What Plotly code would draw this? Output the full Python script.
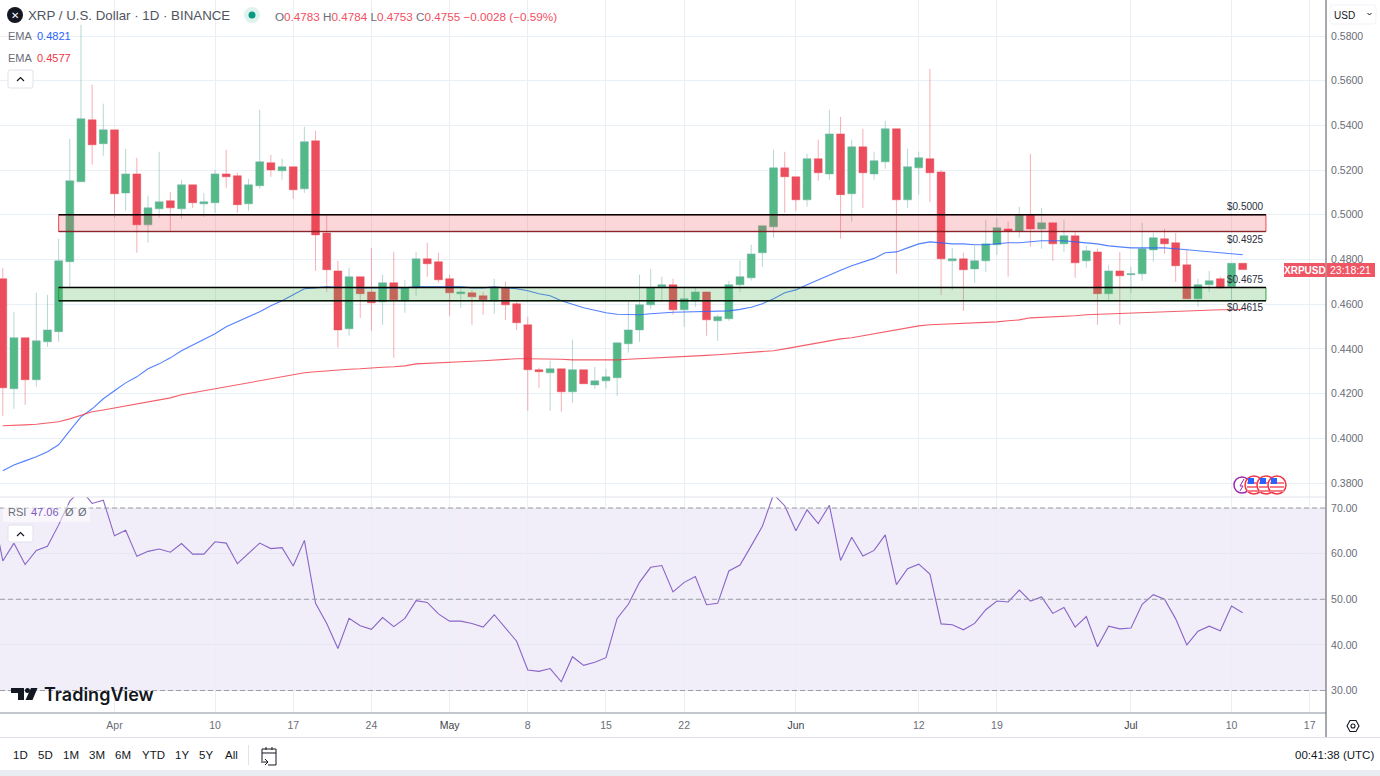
import plotly.graph_objects as go
import pandas as pd

W, H = 1380, 776
FONT = "Liberation Sans"

start_date = "2023-03-22"
opens = [.4714,.4222,.4450,.4262,.4432,.4477,.4790,.5148,.5425,.5318,
 .5380,.5098,.5183,.4955,.5027,.5063,.5027,.5134,.5049,.5054,.5183,.5175,.5049,.5130,.5233,.5197,.5215,.5116,.5331,.4919,.4749,.4490,.4723,.4655,.4611,.4696,.4615,.4673,.4803,.4790,
 .4714,.4647,.4651,.4638,.4615,.4673,.4602,.4508,.4307,.4293,.4311,.4208,.4307,.4239,.4257,.4271,.4423,.4485,.4597,.4678,.4687,.4575,.4615,.4655,.4526,.4535,.4687,.4718,.4830,.4946,.5210,
 .5170,.5067,.5251,.5183,.5362,.5094,.5304,.5183,.5237,.5385,.5067,.5210,.5251,.5192,.4794,.4803,.4758,.4794,.4866,.4937,.4928,.5000,.4937,.4964,.4870,.4906,.4794,.4834,.4647,.4749,
 .4732,.4736,.4843,.4893,.4875,.4776,.4624,.4687,.4714,.4678,.4783]
highs = [.4763,.4566,.4450,.4651,.4642,.4893,.5340,.5850,.5582,.5497,
 .5380,.5295,.5255,.5085,.5282,.5103,.5157,.5134,.5098,.5201,.5291,.5188,.5161,.5470,.5268,.5251,.5215,.5394,.5376,.5000,.4794,.4763,.4723,.4852,.4732,.4834,.4709,.4834,.4875,.4830,
 .4732,.4669,.4664,.4655,.4714,.4700,.4611,.4544,.4316,.4347,.4311,.4441,.4307,.4320,.4311,.4427,.4611,.4732,.4758,.4723,.4714,.4678,.4673,.4655,.4553,.4705,.4794,.4866,.4951,.5291,.5282,
 .5170,.5273,.5336,.5470,.5438,.5336,.5385,.5282,.5421,.5385,.5295,.5282,.5653,.5201,.4852,.4830,.4861,.4978,.4987,.4969,.5036,.5273,.5031,.4964,.4978,.4924,.4861,.4848,.4776,.4834,
 .4767,.4964,.4919,.4937,.4919,.4843,.4714,.4749,.4723,.4785,.4784]
lows = [.4101,.4132,.4150,.4230,.4409,.4432,.4673,.5148,.5224,.5264,
 .4987,.5018,.4830,.4875,.4987,.4924,.4982,.5031,.4991,.5009,.5121,.5009,.5018,.5116,.5170,.5157,.5072,.5098,.4749,.4655,.4405,.4459,.4539,.4481,.4508,.4360,.4562,.4638,.4723,.4696,
 .4548,.4584,.4508,.4553,.4557,.4530,.4485,.4123,.4226,.4123,.4119,.4159,.4244,.4222,.4222,.4190,.4383,.4432,.4579,.4620,.4553,.4499,.4588,.4459,.4436,.4526,.4655,.4705,.4767,.4897,.5009,
 .5018,.5036,.5152,.5157,.4893,.4969,.5031,.5157,.5206,.4736,.5031,.5090,.5058,.4642,.4664,.4570,.4696,.4745,.4821,.4723,.4897,.4857,.4848,.4794,.4834,.4718,.4763,.4508,.4620,.4508,
 .4651,.4705,.4790,.4825,.4700,.4624,.4588,.4655,.4669,.4620,.4753]
closes = [.4226,.4450,.4262,.4436,.4485,.4794,.5152,.5430,.5313,.5380,
 .5094,.5183,.4955,.5031,.5058,.5031,.5134,.5054,.5058,.5183,.5170,.5045,.5134,.5237,.5201,.5215,.5112,.5327,.4910,.4754,.4485,.4723,.4647,.4606,.4696,.4620,.4673,.4803,.4781,.4709,
 .4651,.4655,.4633,.4620,.4673,.4597,.4517,.4307,.4298,.4311,.4208,.4307,.4244,.4257,.4275,.4427,.4485,.4597,.4673,.4687,.4575,.4624,.4655,.4530,.4544,.4687,.4723,.4825,.4951,.5210,.5170,
 .5067,.5251,.5188,.5362,.5090,.5304,.5188,.5242,.5385,.5067,.5215,.5255,.5188,.4803,.4803,.4754,.4794,.4870,.4942,.4928,.5000,.4937,.4964,.4870,.4906,.4785,.4839,.4647,.4749,.4727,
 .4736,.4848,.4897,.4870,.4772,.4624,.4687,.4705,.4673,.4783,.4755]
ema_blue = [.3855,.3881,.3899,.3917,.3940,.3971,.4034,.4096,.4132,.4177,
 .4213,.4248,.4275,.4311,.4333,.4360,.4392,.4418,.4445,.4468,.4499,.4521,.4544,.4566,.4593,.4615,.4642,.4669,.4673,.4678,.4676,.4673,.4673,.4673,.4673,.4673,.4673,.4678,.4678,.4678,
 .4680,.4678,.4673,.4673,.4678,.4673,.4669,.4660,.4647,.4638,.4615,.4600,.4584,.4573,.4562,.4555,.4553,.4553,.4557,.4562,.4564,.4565,.4566,.4566,.4566,.4570,.4577,.4586,.4602,.4624,.4651,
 .4664,.4687,.4709,.4732,.4752,.4772,.4790,.4805,.4830,.4834,.4852,.4870,.4879,.4875,.4870,.4870,.4866,.4866,.4870,.4875,.4875,.4879,.4884,.4884,.4884,.4879,.4875,.4870,.4861,.4857,
 .4852,.4852,.4852,.4852,.4848,.4843,.4839,.4834,.4830,.4825,.4821]
ema_red = [.4056,.4057,.4060,.4063,.4067,.4074,.4087,.4103,.4119,.4127,
 .4136,.4145,.4154,.4163,.4172,.4181,.4195,.4204,.4213,.4222,.4230,.4239,.4248,.4257,.4266,.4275,.4284,.4293,.4298,.4302,.4307,.4309,.4311,.4316,.4318,.4320,.4324,.4333,.4336,.4338,
 .4340,.4342,.4345,.4347,.4351,.4354,.4356,.4356,.4356,.4356,.4354,.4351,.4351,.4351,.4349,.4351,.4354,.4356,.4360,.4362,.4365,.4367,.4369,.4371,.4374,.4378,.4380,.4383,.4387,.4392,.4400,
 .4409,.4418,.4427,.4436,.4445,.4450,.4459,.4468,.4477,.4485,.4494,.4503,.4508,.4510,.4512,.4515,.4517,.4519,.4521,.4526,.4530,.4539,.4541,.4544,.4546,.4548,.4553,.4555,.4557,.4559,
 .4562,.4564,.4566,.4566,.4568,.4570,.4573,.4575,.4575,.4575,.4577]
rsi_start_date = "2023-03-21"
rsi = [71,58.4,62.3,57.6,60.7,61.6,66.3,71.5,74,71,71.7,
 63.9,65.1,59.4,60.5,61,60.3,62.2,59.9,59.9,62.6,62.3,57.8,60,62.3,61.1,61.3,57.3,62.9,49.1,44.7,39.2,45.8,44.2,43.4,46,44,45.8,49.7,49.3,46.8,
 45.2,45.2,44.7,43.9,46.6,43.7,40.8,34.5,34.2,34.8,31.9,37.4,35.5,36.2,37.2,45.8,48.9,53.7,57,57.4,51.6,53.7,55,48.8,49.1,56.2,57.5,61.7,66,73,70.5,
 65,69.6,66.6,70.6,58.5,63.6,59.5,60.7,64.1,53.2,56.7,57.7,55.5,44.6,44.4,43.3,44.7,47.7,49.6,49.4,52,49.6,50.5,46.9,48.2,43.9,46.2,39.6,44.1,43.5,
 43.7,48.9,51,50,45.7,40,43,44.1,43.1,48.5,47.06]

price_ticks = [.58,.56,.54,.52,.50,.48,.46,.44,.42,.40,.38]
rsi_ticks = [70,60,50,40,30]
rsi_dashed = [70,50,30]
time_tick_dates = ["2023-04-01","2023-04-10","2023-04-17","2023-04-24","2023-05-01","2023-05-08","2023-05-15","2023-05-22",
                   "2023-06-01","2023-06-12","2023-06-19","2023-07-01","2023-07-10","2023-07-17"]
time_tick_labels = ["Apr","10","17","24","May","8","15","22","Jun","12","19","Jul","10","17"]
month_labels = {"May","Jun","Jul"}
red_zone = [0.4925, 0.5000]
green_zone = [0.4615, 0.4675]
zone_dates = ["2023-03-27", "2023-07-13 02:00"]
zone_labels = ["$0.5000","$0.4925","$0.4675","$0.4615"]
range_buttons = ["1D","5D","1M","3M","6M","YTD","1Y","5Y","All"]

dates = pd.date_range(start_date, periods=len(opens), freq="D")
rsi_dates = pd.date_range(rsi_start_date, periods=len(rsi), freq="D")
x_range = ["2023-03-21 18:00", "2023-07-18 11:00"]

GREEN, RED = "#53b987", "#eb4d5c"
BLUE, LRED, PURPLE = "#2962ff", "#f23645", "#7e57c2"
GRID = "#e9f0f5"
TXT = "#6a6d78"
DARK = "#131722"

def X(p): return p / W
def Y(p): return 1 - p / H

shapes, annos = [], []

def paper(kind, x0, y0, x1, y1, fill="rgba(0,0,0,0)", line=None, lw=1, layer="above", dash=None):
    shapes.append(dict(type=kind, xref="paper", yref="paper", x0=X(x0), x1=X(x1), y0=Y(y0), y1=Y(y1),
                       fillcolor=fill, line=dict(color=line or "rgba(0,0,0,0)", width=lw if line else 0, dash=dash),
                       layer=layer))

def path(points, fill="rgba(0,0,0,0)", line=None, lw=1, layer="above", close=False):
    d = "M" + " L".join(f"{X(a):.5f},{Y(b):.5f}" for a, b in points) + (" Z" if close else "")
    shapes.append(dict(type="path", xref="paper", yref="paper", path=d, fillcolor=fill,
                       line=dict(color=line or "rgba(0,0,0,0)", width=lw if line else 0), layer=layer))

def rrect(x0, y0, x1, y1, r, fill, line):
    d = (f"M{X(x0+r):.5f},{Y(y0):.5f} L{X(x1-r):.5f},{Y(y0):.5f} Q{X(x1):.5f},{Y(y0):.5f} {X(x1):.5f},{Y(y0+r):.5f} "
         f"L{X(x1):.5f},{Y(y1-r):.5f} Q{X(x1):.5f},{Y(y1):.5f} {X(x1-r):.5f},{Y(y1):.5f} "
         f"L{X(x0+r):.5f},{Y(y1):.5f} Q{X(x0):.5f},{Y(y1):.5f} {X(x0):.5f},{Y(y1-r):.5f} "
         f"L{X(x0):.5f},{Y(y0+r):.5f} Q{X(x0):.5f},{Y(y0):.5f} {X(x0+r):.5f},{Y(y0):.5f} Z")
    shapes.append(dict(type="path", xref="paper", yref="paper", path=d, fillcolor=fill,
                       line=dict(color=line, width=1), layer="above"))

def txt(x, y, s, size=11, color=TXT, anchor="left", family=FONT, weight=None):
    f = dict(family=family, size=size, color=color)
    if weight:
        f["weight"] = weight
    annos.append(dict(xref="paper", yref="paper", x=X(x), y=Y(y), text=s, showarrow=False, xanchor=anchor,
                      yanchor="middle", borderpad=0, borderwidth=0, font=f))

# --- RSI band and dashed levels
shapes.append(dict(type="rect", xref="x", yref="y2", x0=x_range[0], x1=x_range[1], y0=rsi_dashed[2], y1=rsi_dashed[0],
                   fillcolor="rgba(126,87,194,0.1)", line=dict(width=0), layer="below"))
for lv in rsi_dashed:
    shapes.append(dict(type="line", xref="x", yref="y2", x0=x_range[0], x1=x_range[1], y0=lv, y1=lv,
                       line=dict(color="#9a9ca6", width=1, dash="5px,3px"), layer="above"))

# --- price zones
shapes.append(dict(type="rect", xref="x2", yref="y", x0=zone_dates[0], x1=zone_dates[1], y0=red_zone[0], y1=red_zone[1],
                   fillcolor="rgba(242,54,69,0.2)", line=dict(color="rgba(242,54,69,0.9)", width=1), layer="above"))
shapes.append(dict(type="rect", xref="x2", yref="y", x0=zone_dates[0], x1=zone_dates[1], y0=green_zone[0], y1=green_zone[1],
                   fillcolor="rgba(76,175,80,0.25)", line=dict(color="rgba(30,160,40,0.9)", width=1), layer="above"))
for lv, col, lw in [(red_zone[1], "#000000", 1.5), (red_zone[0], "rgba(60,0,0,0.55)", 1.5),
                    (green_zone[1], "#000000", 1.5), (green_zone[0], "rgba(0,0,0,0.9)", 1.5)]:
    shapes.append(dict(type="line", xref="x2", yref="y", x0=zone_dates[0], x1=zone_dates[1], y0=lv, y1=lv,
                       line=dict(color=col, width=lw), layer="above"))
for s, (xx, yy) in zip(zone_labels, [(1245, 207), (1245, 239), (1245, 279), (1245, 308)]):
    txt(xx, yy, s, size=10, color="#2a2e39", anchor="center")

# --- frame lines
paper("line", 0, 497, 1326, 497, line="#e0e3eb")
paper("line", 0, 713, 1326, 713, line="#b2b5be", lw=1.5)
paper("line", 0, 737.5, 1380, 737.5, line="#e0e3eb")
paper("line", 1326, 0, 1326, 737, line="#50535e", lw=1)
paper("rect", 0, 770, 1380, 776, fill="#e9ecf2")

# --- top legend
paper("circle", 7, 7, 23, 23, fill="#131722")
txt(15, 15, "✕", size=10, color="#ffffff", anchor="center", family="DejaVu Sans")
txt(28, 15, "XRP / U.S. Dollar · 1D · BINANCE", size=13.3, color="#50535e")
paper("circle", 244, 7, 260, 23, fill="#dff2ee")
paper("circle", 248.5, 11.5, 255.5, 18.5, fill="#089981")
R = "#f0505f"
txt(275, 16, f'<span style="color:{TXT}">O</span>0.4783 <span style="color:{TXT}">H</span>0.4784 '
             f'<span style="color:{TXT}">L</span>0.4753 <span style="color:{TXT}">C</span>0.4755 −0.0028 (−0.59%)',
    size=11.7, color=R)
txt(8, 36, "EMA", size=11, color=TXT)
txt(37, 36, "0.4821", size=11, color=BLUE)
txt(8, 58, "EMA", size=11, color=TXT)
txt(37, 58, "0.4577", size=11, color=LRED)

def chevron(cx, cy):
    path([(cx - 3.5, cy + 2), (cx, cy - 1.5), (cx + 3.5, cy + 2)], line="#131722", lw=1.2)

rrect(8, 70, 33, 88, 2, "#ffffff", "#e0e3eb")
chevron(20.5, 79)
paper("rect", 3, 505, 90, 522, fill="rgba(255,255,255,0.5)")
rrect(8, 525, 33, 542, 2, "#ffffff", "#e0e3eb")
chevron(20.5, 534)
txt(8, 512, "RSI", size=11, color=TXT)
txt(31, 512, "47.06", size=11, color=PURPLE)
txt(65, 512, "Ø", size=11, color=TXT)
txt(78, 512, "Ø", size=11, color=TXT)

# --- USD button
rrect(1330, 5, 1376, 24, 3, "#ffffff", "#f0f3fa")
txt(1334, 15, "USD", size=10, color=DARK)
path([(1367.5, 13), (1369.5, 15), (1371.5, 13)], line="#131722", lw=1)

# --- live price tag
paper("rect", 1284, 263, 1325.5, 277, fill="#ef5563")
paper("rect", 1326.5, 263, 1375, 277, fill="#ef5563")
txt(1304.5, 270, "XRPUSD", size=10, color="#ffffff", anchor="center", weight=700)
txt(1350.5, 270, "23:18:21", size=10.5, color="#ffffff", anchor="center")

# --- event icons
paper("circle", 1234, 477, 1250, 493, fill="#ffffff", line="#9c27b0", lw=1.5)
path([(1244, 479), (1240, 486), (1243, 486), (1240, 491)], line="#9c27b0", lw=1)
for cx in [1254, 1266, 1277]:
    paper("circle", cx - 9, 476, cx + 9, 494, fill="#ffffff", line="#f23645", lw=1.5)
    for dy in [-2, 2, 6]:
        paper("rect", cx - 7, 485 + dy - 1, cx + 7, 485 + dy + 1, fill="#f57f89")
    paper("rect", cx - 6, 478, cx, 484, fill="#2962ff")

# --- TradingView logo
path([(11, 688), (24, 688), (24, 700), (18, 700), (18, 693), (11, 693)], fill="#131722", close=True)
paper("circle", 25, 688, 30, 693, fill="#131722")
path([(31, 688), (37.5, 688), (32.5, 700), (25.5, 700)], fill="#131722", close=True)
txt(44, 694, "TradingView", size=18, color="#131722", family="Inter", weight=600)

# --- bottom bar
for s, cx in zip(range_buttons, [20, 45, 71, 97, 123, 153, 182, 206, 231]):
    txt(cx, 755, s, size=11.5, color=DARK, anchor="center")
paper("line", 248.5, 745, 248.5, 765, line="#e0e3eb")
path([(262, 761), (262, 749), (276, 749), (276, 765), (268, 765)], line="#131722", lw=1)
path([(262, 753), (276, 753)], line="#131722", lw=1)
path([(266, 747), (266, 750)], line="#131722", lw=1)
path([(272, 747), (272, 750)], line="#131722", lw=1)
path([(261, 762), (268, 762), (265, 759)], line="#131722", lw=1)
path([(268, 762), (265, 765)], line="#131722", lw=1)
txt(1374, 755, "00:41:38 (UTC)", size=11.5, color=DARK, anchor="right")
# gear
path([(1347, 726), (1350, 720.5), (1356, 720.5), (1359, 726), (1356, 731.5), (1350, 731.5)], line="#131722", lw=1.1, close=True)
paper("circle", 1351, 724, 1355, 728, line="#131722", lw=1.1)

# --- traces
fig = go.Figure()
fig.add_trace(go.Candlestick(
    x=dates, open=opens, high=highs, low=lows, close=closes, xaxis="x2", yaxis="y",
    increasing=dict(line=dict(color="rgba(110,180,165,0.5)", width=1), fillcolor=GREEN),
    decreasing=dict(line=dict(color="rgba(235,77,92,0.45)", width=1), fillcolor=RED),
    showlegend=False, hoverinfo="skip"))
fig.add_trace(go.Scatter(x=dates, y=ema_blue, mode="lines", xaxis="x2", yaxis="y",
                         line=dict(color=BLUE, width=1.1), opacity=0.8, showlegend=False, hoverinfo="skip"))
fig.add_trace(go.Scatter(x=dates, y=ema_red, mode="lines", xaxis="x2", yaxis="y",
                         line=dict(color=LRED, width=1.1), opacity=0.8, showlegend=False, hoverinfo="skip"))
fig.add_trace(go.Scatter(x=rsi_dates, y=rsi, mode="lines", xaxis="x", yaxis="y2",
                         line=dict(color=PURPLE, width=1.1), opacity=0.9, showlegend=False, hoverinfo="skip"))

month_col = "#3c3f4a"
ticktext = [f'<span style="color:{month_col}">{t}</span>' if t in month_labels else t for t in time_tick_labels]
x_dom = [0, 1326 / W]
y1_dom = [(H - 497) / H, 1]
y2_dom = [(H - 713) / H, (H - 497) / H]
price_top = 0.58 + 36 / 2235
price_bot = 0.38 - 14 / 2235
rsi_scale = 4.56
rsi_top = 70 + 11 / rsi_scale
rsi_bot = 30 - 22.5 / rsi_scale

tickf = dict(family=FONT, size=10.5, color=TXT)
fig.update_layout(
    width=W, height=H, autosize=False, margin=dict(l=0, r=0, t=0, b=0), boxgap=0.16, boxgroupgap=0.16,
    paper_bgcolor="#ffffff", plot_bgcolor="#ffffff", dragmode=False, hovermode=False, showlegend=False,
    xaxis=dict(domain=x_dom, anchor="y2", type="date", range=x_range, tickmode="array",
               tickvals=time_tick_dates, ticktext=ticktext, showgrid=True, gridcolor=GRID, gridwidth=1,
               zeroline=False, showline=False, ticks="outside", ticklen=2, tickcolor="rgba(0,0,0,0)",
               tickfont=tickf, tickangle=0, rangeslider=dict(visible=False)),
    xaxis2=dict(domain=x_dom, anchor="y", type="date", range=x_range, tickmode="array",
                tickvals=time_tick_dates, showticklabels=False, showgrid=True, gridcolor=GRID, gridwidth=1,
                zeroline=False, showline=False, ticks="", rangeslider=dict(visible=False)),
    yaxis=dict(domain=y1_dom, anchor="x2", side="right", range=[price_bot, price_top], tickmode="array",
               tickvals=price_ticks, tickformat=".4f", showgrid=True, gridcolor=GRID, gridwidth=1,
               zeroline=False, showline=False, ticks="outside", ticklen=2, tickcolor="rgba(0,0,0,0)", tickfont=tickf),
    yaxis2=dict(domain=y2_dom, anchor="x", side="right", range=[rsi_bot, rsi_top], tickmode="array",
                tickvals=rsi_ticks, tickformat=".2f", showgrid=True, gridcolor="#e6e7f2", gridwidth=1,
                zeroline=False, showline=False, ticks="outside", ticklen=2, tickcolor="rgba(0,0,0,0)", tickfont=tickf),
    shapes=shapes, annotations=annos,
)
fig.write_html("out.html", config=dict(displayModeBar=False),
               post_script="document.body.style.margin='0';document.body.style.overflow='hidden';")
